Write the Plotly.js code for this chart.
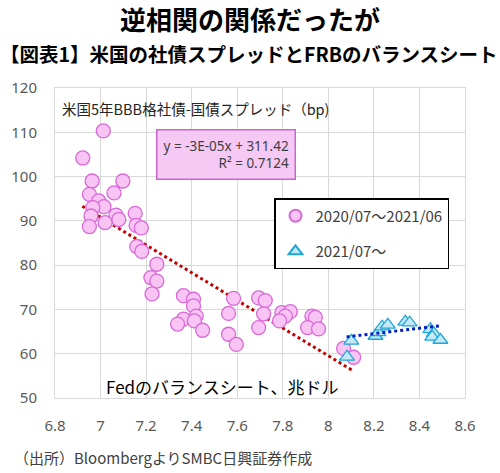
<!DOCTYPE html>
<html><head><meta charset="utf-8">
<script src="https://cdn.plot.ly/plotly-3.0.1.min.js"></script>
<style>body{margin:0;background:#fff}</style>
</head><body><div id="chart" style="width:500px;height:473px"></div>
<script>
// Series 1: 2020/07～2021/06 (Fed balance sheet, trillion USD; spread bp)
const s1X = [7.012,6.922,6.963,7.098,6.951,7.059,6.992,7.015,6.966,6.958,7.068,7.080,7.020,6.951,
  7.152,7.156,7.179,7.159,7.181,7.247,7.221,7.247,7.226,7.364,7.408,7.408,7.420,7.364,7.338,7.412,7.448,
  7.584,7.562,7.562,7.596,7.694,7.723,7.716,7.694,7.796,7.833,7.811,7.786,7.928,7.943,7.909,7.957,8.067,8.111];
const s1Y = [110.3,104.2,99.0,99.0,96.0,96.3,94.5,93.2,93.0,91.1,91.3,90.3,89.6,88.7,
  91.7,89.0,88.4,84.2,83.1,80.2,77.2,76.4,73.5,73.1,72.3,70.8,68.5,67.8,66.7,67.4,65.3,
  72.5,69.1,64.4,62.1,72.6,72.0,69.0,65.9,69.3,69.5,68.5,67.4,68.5,68.2,65.9,65.6,61.2,59.2];
// Series 2: 2021/07～
const s2X = [8.101,8.082,8.207,8.220,8.236,8.261,8.338,8.357,8.448,8.463,8.456,8.492];
const s2Y = [62.9,59.3,64.0,64.8,66.1,66.5,67.2,67.0,65.5,64.6,63.8,63.1];
// Trend lines (endpoints)
const trend1X = [6.92, 8.11], trend1Y = [93.3, 56.1];
const trend2X = [8.08, 8.49], trend2Y = [63.8, 66.3];
const xTicks = [6.8,7,7.2,7.4,7.6,7.8,8,8.2,8.4,8.6];
const yTicks = [50,60,70,80,90,100,110,120];

const JP = '"Noto Sans CJK JP", sans-serif';
const traces = [
  {x: trend1X, y: trend1Y, mode:'lines', line:{color:'#c00000', width:3, dash:'dot'}, showlegend:false, hoverinfo:'skip'},
  {x: s1X, y: s1Y, mode:'markers', name:'2020/07～2021/06', legendgroup:'a',
   marker:{symbol:'circle', size:14, color:'#f8c4f4', line:{color:'#d868d8', width:1.3}}},
  {x: s2X, y: s2Y, mode:'markers', name:'2021/07～', legendgroup:'b',
   marker:{symbol:'triangle-up', size:13, color:'#c4e8f6', line:{color:'#1ea6d8', width:1.3}}},
  {x: trend2X, y: trend2Y, mode:'lines', line:{color:'#0020c0', width:3, dash:'dot'}, showlegend:false, hoverinfo:'skip'}
];
const layout = {
  width:500, height:473,
  margin:{l:55, r:35, t:88, b:75},
  paper_bgcolor:'#fff', plot_bgcolor:'#fff',
  font:{family:JP, color:'#404040'},
  xaxis:{range:[6.8,8.6], tickvals:xTicks, ticktext:xTicks.map(String), showgrid:true, gridcolor:'#d9d9d9',
    zeroline:false, showline:true, linecolor:'#d9d9d9', mirror:true, ticks:'', ticklabelstandoff:14,
    tickfont:{family:'"Noto Sans", sans-serif', size:15, color:'#595959'}, fixedrange:true},
  yaxis:{range:[50,120], tickvals:yTicks, showgrid:true, gridcolor:'#d9d9d9',
    zeroline:false, showline:true, linecolor:'#d9d9d9', mirror:true, ticks:'', ticklabelstandoff:14,
    tickfont:{family:'"Noto Sans", sans-serif', size:15, color:'#595959'}, fixedrange:true},
  showlegend:true,
  legend:{x:(274-55)/410, y:0.645, xanchor:'left', yanchor:'top', bgcolor:'#fff', bordercolor:'#000', borderwidth:1.5,
    font:{family:JP, size:15, color:'#404040'}, tracegroupgap:13, itemsizing:'constant', itemwidth:30},
  annotations:[
    {text:'<b>逆相関の関係だったが</b>', xref:'paper', yref:'paper', x:(250-55)/410, y:(398-18)/310, xanchor:'center', yanchor:'middle',
     showarrow:false, font:{family:JP, size:26, color:'#000'}},
    {text:'<b>【図表1】米国の社債スプレッドとFRBのバランスシート</b>', xref:'paper', yref:'paper', x:(249-55)/410, y:(398-53)/310,
     xanchor:'center', yanchor:'middle', showarrow:false, font:{family:JP, size:19.5, color:'#000'}},
    {text:'米国5年BBB格社債-国債スプレッド（bp)', xref:'paper', yref:'paper', x:(60-55)/410, y:(398-108)/310,
     xanchor:'left', yanchor:'middle', showarrow:false, font:{family:JP, size:14.5, color:'#262626'}},
    {text:'y = -3E-05x + 311.42<br>R² = 0.7124', xref:'paper', yref:'paper', x:(226-55)/410, y:(398-154)/310,
     xanchor:'center', yanchor:'middle', showarrow:false, align:'right', bgcolor:'#f6c8f4', bordercolor:'#cc66cc', borderwidth:1.5,
     borderpad:6, font:{family:'"Noto Sans", sans-serif', size:13.5, color:'#404040'}},
    {text:'Fedのバランスシート、兆ドル', xref:'paper', yref:'paper', x:(104-55)/410, y:(398-386)/310,
     xanchor:'left', yanchor:'middle', showarrow:false, font:{family:JP, size:17, color:'#000'}},
    {text:'（出所）BloombergよりSMBC日興証券作成', xref:'paper', yref:'paper', x:(12-55)/410, y:(398-457)/310,
     xanchor:'left', yanchor:'middle', showarrow:false, font:{family:JP, size:15, color:'#404040'}}
  ]
};
Plotly.newPlot('chart', traces, layout, {displayModeBar:false, staticPlot:true});
</script></body></html>
